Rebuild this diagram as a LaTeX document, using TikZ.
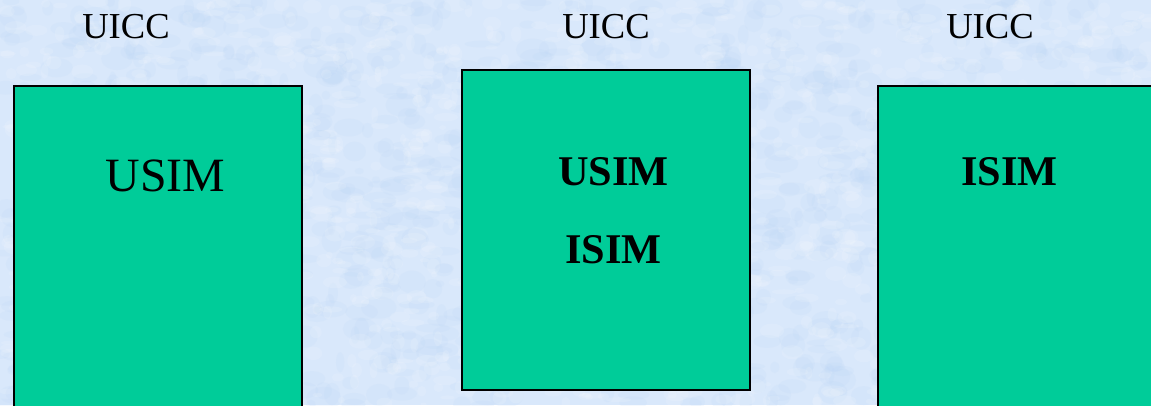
\documentclass[tikz,border=0pt]{standalone}
\usepackage{fontspec}
\setmainfont{Liberation Serif}
\definecolor{bgblue}{HTML}{D9E8FB}
\definecolor{speckdark}{HTML}{B9D4F7}
\definecolor{boxgreen}{HTML}{00CC99}
\tikzset{
  cardbox/.style={draw=black,fill=boxgreen,line width=2bp,outer sep=0pt,minimum width=288bp,anchor=north west,inner sep=0pt},
  label/.style={text=black,anchor=center,inner sep=0pt},
}
\begin{document}
\begin{tikzpicture}[x=1bp,y=-1bp]
\useasboundingbox (0,0) rectangle (1151,405);
\fill[bgblue] (0,0) rectangle (1151,405);
\begin{scope}
\clip (0,0) rectangle (1151,405);
\pgfmathsetseed{11}
\foreach \i in {1,...,1300}{
  \pgfmathsetmacro{\px}{rnd*1151}
  \pgfmathsetmacro{\py}{rnd*405}
  \pgfmathsetmacro{\w}{4+rnd*14}
  \pgfmathsetmacro{\h}{3+rnd*9}
  \fill[speckdark,opacity=.14] (\px,\py) ellipse ({\w} and {\h});
}
\foreach \i in {1,...,1300}{
  \pgfmathsetmacro{\px}{rnd*1151}
  \pgfmathsetmacro{\py}{rnd*405}
  \pgfmathsetmacro{\w}{3+rnd*10}
  \pgfmathsetmacro{\h}{2+rnd*6}
  \fill[white,opacity=.12] (\px,\py) ellipse ({\w} and {\h});
}
\end{scope}
\node[cardbox,minimum height=340bp] (left) at (14,86) {};
\node[cardbox,minimum height=320bp] (mid) at (462,70) {};
\node[cardbox,minimum height=340bp] (right) at (878,86) {};
\node[label,font=\fontsize{36.7}{36.7}\selectfont] (u1) at (126,27) {UICC};
\node[label,font=\fontsize{36.7}{36.7}\selectfont] (u2) at (606,27) {UICC};
\node[label,font=\fontsize{36.7}{36.7}\selectfont] (u3) at (990,27) {UICC};
\node[label,font=\fontsize{48}{48}\selectfont] (a) at (165.5,175.5) {USIM};
\node[label,font=\fontsize{42.5}{42.5}\selectfont\bfseries] (b) at (613.5,171.5) {USIM};
\node[label,font=\fontsize{42.5}{42.5}\selectfont\bfseries] (c) at (613.5,249.5) {ISIM};
\node[label,font=\fontsize{42.5}{42.5}\selectfont\bfseries] (d) at (1009.5,171.5) {ISIM};
\end{tikzpicture}
\end{document}
